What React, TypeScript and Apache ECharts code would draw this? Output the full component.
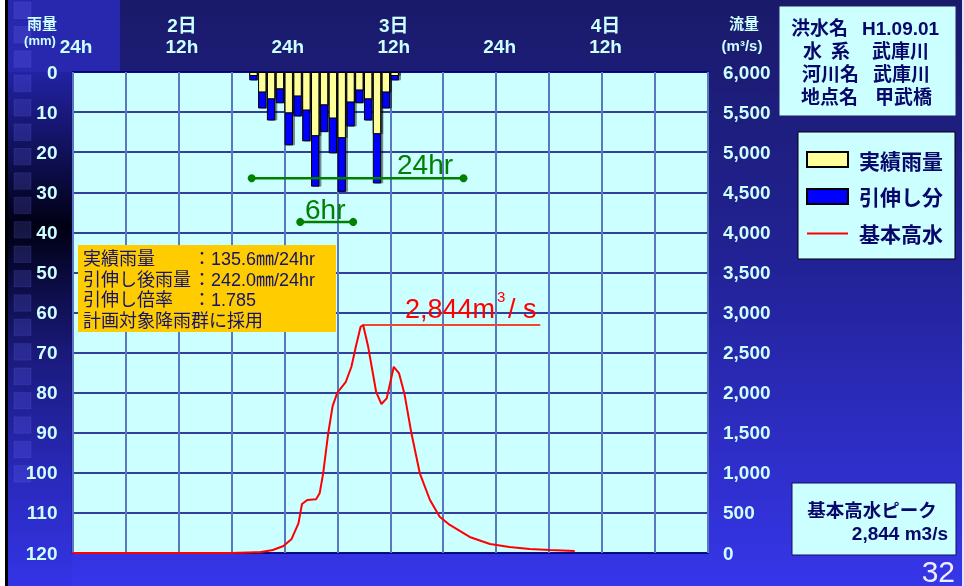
import React, { useEffect, useRef } from "react";
import * as echarts from "echarts";

// ---- data ----
const rainHours = [20, 21, 22, 23, 24, 25, 26, 27, 28, 29, 30, 31, 32, 33, 34, 35, 36];
const actualRain = [1.0, 5.1, 6.8, 4.3, 10.3, 6.1, 9.6, 16.0, 8.3, 11.6, 16.5, 7.6, 4.6, 6.8, 15.5, 5.1, 1.0];
const extraRain = [1.1, 4.0, 5.3, 3.5, 8.0, 5.0, 7.7, 12.6, 6.7, 8.7, 13.4, 6.0, 3.2, 5.3, 12.3, 4.0, 1.1];

const flowTimes = [0, 18, 21.2, 22.7, 23.9, 24.8, 25.6, 26.0, 26.6, 27.6, 28.0, 28.4, 28.97, 29.47, 30.0, 30.97, 31.6, 32.1, 32.64, 32.93, 33.5, 34.4, 35.0, 35.6, 36.4, 37.0, 37.6, 38.4, 39.35, 40.5, 41.6, 42.75, 45.0, 47.3, 49.5, 51.8, 54.1, 56.9];
const flowValues = [0, 0, 10, 37, 87, 171, 370, 611, 661, 670, 744, 994, 1493, 1833, 1999, 2136, 2323, 2572, 2822, 2844, 2572, 2011, 1858, 1929, 2323, 2240, 1991, 1493, 994, 661, 453, 350, 200, 112, 75, 50, 37, 25];

const peakTime = 32.93;
const peakFlow = 2844;
const peakLineEnd = 53;

const span24 = [20.3, 44.3];
const span24Level = 26.5;
const span6 = [25.8, 31.8];
const span6Level = 37.4;

const hourTickLabels: Record<number, string> = { 0: "24h", 12: "12h", 24: "24h", 36: "12h", 48: "24h", 60: "12h" };
const dayTickLabels: Record<number, string> = { 12: "2日", 36: "3日", 60: "4日" };

const seriesNames = ["実績雨量", "引伸し分", "基本高水"];

const noteLabels = ["実績雨量", "引伸し後雨量", "引伸し倍率", "計画対象降雨群に採用"];
const noteValues = ["135.6㎜/24hr", "242.0㎜/24hr", "1.785"];

const LAT = "'Liberation Sans', Arial, sans-serif";
const CJK = "'Noto Sans CJK JP', sans-serif";
const MIX = "'Liberation Sans', 'Noto Sans CJK JP', sans-serif";
const CYAN = "#CCFFFF";
const NAVY = "#08086a";

function txt(text: string, x: number, y: number, opt: any = {}) {
  return {
    type: "text",
    z: 100,
    silent: true,
    style: {
      text,
      x,
      y,
      fill: opt.fill || NAVY,
      fontSize: opt.size || 18,
      fontWeight: opt.weight || "normal",
      fontFamily: opt.family || MIX,
      align: opt.align || "left",
      verticalAlign: opt.valign || "middle",
      lineHeight: opt.lineHeight,
    },
  };
}

export default function App() {
  const ref = useRef<HTMLDivElement>(null);
  useEffect(() => {
    if (!ref.current) return;
    const chart = echarts.init(ref.current, null, { renderer: "svg" });

    const squares: any[] = [];
    for (let k = 0; k < 20; k++) {
      squares.push({
        type: "rect",
        z: -5,
        silent: true,
        shape: { x: 14, y: 2 + k * 24.4, width: 17, height: 16.5 },
        style: { fill: "rgba(110,110,255,0.2)", stroke: "rgba(140,140,255,0.12)", lineWidth: 1 },
      });
    }

    const graphics: any[] = [
      {
        type: "rect",
        z: -10,
        silent: true,
        shape: { x: 0, y: 0, width: 964, height: 586 },
        style: {
          fill: new echarts.graphic.LinearGradient(0, 0, 0, 1, [
            { offset: 0, color: "#1a1a6a" },
            { offset: 0.45, color: "#222296" },
            { offset: 1, color: "#3636ea" },
          ]),
        },
      },
      {
        type: "rect",
        z: -9,
        silent: true,
        shape: { x: 8, y: 0, width: 112, height: 72 },
        style: { fill: "#2828ae" },
      },
      {
        type: "rect",
        z: -9,
        silent: true,
        shape: { x: 8, y: 72, width: 64.5, height: 514 },
        style: {
          fill: new echarts.graphic.LinearGradient(0, 0, 0, 1, [
            { offset: 0, color: "#2222a4" },
            { offset: 0.3, color: "#000014" },
            { offset: 0.55, color: "#1a1a7c" },
            { offset: 0.8, color: "#2a2abe" },
            { offset: 1, color: "#3434e6" },
          ]),
        },
      },
      ...squares,
      { type: "rect", z: -4, silent: true, shape: { x: 0, y: 0, width: 5, height: 586 }, style: { fill: "#ffffff" } },
      { type: "rect", z: -4, silent: true, shape: { x: 5, y: 0, width: 3, height: 586 }, style: { fill: "#000000" } },
      { type: "rect", z: -4, silent: true, shape: { x: 962, y: 0, width: 2, height: 586 }, style: { fill: "#e0e0ff" } },

      // axis headers
      txt("雨量", 42, 23, { fill: CYAN, size: 15, weight: "bold", align: "center" }),
      txt("(mm)", 40, 40, { fill: CYAN, size: 13, weight: "bold", align: "center", family: LAT }),
      txt("流量", 744, 23, { fill: CYAN, size: 15, weight: "bold", align: "center" }),
      txt("(m³/s)", 742, 45, { fill: CYAN, size: 15, weight: "bold", align: "center", family: LAT }),

      // info box
      {
        type: "rect",
        z: 90,
        silent: true,
        shape: { x: 779, y: 6, width: 177, height: 110 },
        style: { fill: CYAN, stroke: "#20206a", lineWidth: 1 },
      },
      txt("洪水名", 791, 28, { size: 19, weight: "bold" }),
      txt("H1.09.01", 862, 28, { size: 19, weight: "bold", family: LAT }),
      txt("水", 803, 51, { size: 19, weight: "bold" }),
      txt("系", 831, 51, { size: 19, weight: "bold" }),
      txt("武庫川", 872, 51, { size: 19, weight: "bold" }),
      txt("河川名", 802, 74, { size: 19, weight: "bold" }),
      txt("武庫川", 873, 74, { size: 19, weight: "bold" }),
      txt("地点名", 801, 97, { size: 19, weight: "bold" }),
      txt("甲武橋", 875, 97, { size: 19, weight: "bold" }),

      // annotation box
      {
        type: "rect",
        z: 90,
        silent: true,
        shape: { x: 78, y: 245, width: 258, height: 87 },
        style: { fill: "#FFCC00" },
      },
      txt(noteLabels.join("\n"), 83, 249, { size: 18, fill: "#14146a", valign: "top", lineHeight: 20.5 }),
      txt(noteValues.map(() => "：").join("\n"), 202, 249, { size: 18, fill: "#14146a", align: "center", valign: "top", lineHeight: 20.5 }),
      txt(noteValues.join("\n"), 211, 249, { size: 18, fill: "#14146a", valign: "top", lineHeight: 20.5 }),

      // peak label
      txt("2,844m", 405, 309, { size: 27, fill: "#FF0000", family: LAT }),
      txt("3", 497, 296, { size: 15, fill: "#FF0000", family: LAT }),
      txt("/ s", 508, 309, { size: 27, fill: "#FF0000", family: LAT }),

      // green labels
      txt("24hr", 397, 164, { size: 28, fill: "#008000", family: LAT }),
      txt("6hr", 305, 209, { size: 28, fill: "#008000", family: LAT }),

      // peak box
      {
        type: "rect",
        z: 90,
        silent: true,
        shape: { x: 792, y: 483, width: 164, height: 72 },
        style: { fill: CYAN, stroke: "#10105a", lineWidth: 1 },
      },
      txt("基本高水ピーク", 872, 510, { size: 18.5, weight: "bold", align: "center" }),
      txt("2,844 m3/s", 948, 533, { size: 19, weight: "bold", align: "right", family: LAT }),

      txt("32", 955, 571, { size: 30, fill: "#eeeeff", align: "right", family: LAT }),
    ];

    const totalRain = actualRain.map((a, i) => a + extraRain[i]);
    const barShadow = { shadowColor: "rgba(0,0,0,0.45)", shadowOffsetX: 2, shadowBlur: 1 };

    const option: any = {
      animation: false,
      graphic: { elements: graphics },
      grid: {
        left: 72.5,
        right: 256,
        top: 72,
        bottom: 33,
        show: true,
        backgroundColor: CYAN,
        borderColor: "#000080",
        borderWidth: 1.5,
        z: 0,
      },
      legend: {
        data: [
          { name: seriesNames[0], icon: "rect" },
          { name: seriesNames[1], icon: "rect" },
          { name: seriesNames[2], icon: "path://M0,0H41V0.01H0ZM0,6.5H41V8.5H0ZM0,14.99H41V15H0Z" },
        ],
        orient: "vertical",
        left: 798,
        top: 132,
        padding: [17, 12, 15, 8],
        itemWidth: 41,
        itemHeight: 15,
        itemGap: 16,
        backgroundColor: CYAN,
        borderColor: "#000000",
        borderWidth: 1,
        selectedMode: false,
        textStyle: {
          color: NAVY,
          fontSize: 21,
          fontWeight: "bold",
          fontFamily: CJK,
          padding: [0, 0, 0, 6],
        },
      },
      xAxis: [
        {
          type: "value",
          min: 0,
          max: 72,
          interval: 6,
          position: "top",
          axisLine: { show: false },
          axisTick: { show: false },
          splitLine: { show: true, lineStyle: { color: "#5a78c0", width: 2 } },
          axisLabel: {
            color: CYAN,
            fontSize: 19,
            fontWeight: "bold",
            fontFamily: LAT,
            margin: 16,
            padding: [0, 0, 0, 7],
            showMaxLabel: false,
            formatter: (v: number) => hourTickLabels[v] || "",
          },
        },
        {
          type: "value",
          min: 0,
          max: 72,
          interval: 6,
          position: "top",
          offset: 23,
          axisLine: { show: false },
          axisTick: { show: false },
          splitLine: { show: false },
          axisLabel: {
            color: CYAN,
            fontSize: 19,
            fontWeight: "bold",
            fontFamily: MIX,
            margin: 14,
            padding: [0, 0, 0, 7],
            showMaxLabel: false,
            formatter: (v: number) => dayTickLabels[v] || "",
          },
        },
      ],
      yAxis: [
        {
          type: "value",
          inverse: true,
          min: 0,
          max: 120,
          interval: 10,
          position: "left",
          axisLine: { show: false },
          axisTick: { show: false },
          splitLine: { show: true, lineStyle: { color: "#00007a", width: 1.5 } },
          axisLabel: { color: CYAN, fontSize: 19, fontWeight: "bold", fontFamily: LAT, margin: 15 },
        },
        {
          type: "value",
          min: 0,
          max: 6000,
          interval: 500,
          position: "right",
          axisLine: { show: false },
          axisTick: { show: false },
          splitLine: { show: false },
          axisLabel: {
            color: CYAN,
            fontSize: 19,
            fontWeight: "bold",
            fontFamily: LAT,
            margin: 15,
            formatter: (v: number) => v.toLocaleString("en-US"),
          },
        },
      ],
      series: [
        {
          // extended rainfall (actual + extension), drawn behind
          name: seriesNames[1],
          type: "bar",
          xAxisIndex: 0,
          yAxisIndex: 0,
          barWidth: 8.4,
          barGap: "-100%",
          itemStyle: { color: "#0000FF", borderColor: "#000000", borderWidth: 1, ...barShadow },
          data: rainHours.map((h, i) => [h + 0.5, totalRain[i]]),
          z: 3,
        },
        {
          // actual rainfall, drawn on top from the 0 line
          name: seriesNames[0],
          type: "bar",
          xAxisIndex: 0,
          yAxisIndex: 0,
          barWidth: 8.4,
          barGap: "-100%",
          itemStyle: { color: "#FFFF99", borderColor: "#000000", borderWidth: 1, ...barShadow },
          data: rainHours.map((h, i) => [h + 0.5, actualRain[i]]),
          z: 4,
        },
        {
          name: seriesNames[2],
          type: "line",
          xAxisIndex: 0,
          yAxisIndex: 1,
          symbol: "none",
          showSymbol: false,
          lineStyle: { color: "#FF0000", width: 2 },
          itemStyle: { color: "#FF0000" },
          data: flowTimes.map((t, i) => [t, flowValues[i]]),
          z: 5,
          markLine: {
            silent: true,
            symbol: ["none", "none"],
            label: { show: false },
            lineStyle: { color: "#EE4A2A", width: 2, type: "solid" },
            data: [[{ coord: [peakTime, peakFlow] }, { coord: [peakLineEnd, peakFlow] }]],
          },
        },
        {
          name: "24hr",
          type: "line",
          xAxisIndex: 0,
          yAxisIndex: 0,
          symbol: "circle",
          symbolSize: 8,
          lineStyle: { color: "#008000", width: 2.5 },
          itemStyle: { color: "#008000" },
          data: span24.map((t) => [t, span24Level]),
          z: 6,
        },
        {
          name: "6hr",
          type: "line",
          xAxisIndex: 0,
          yAxisIndex: 0,
          symbol: "circle",
          symbolSize: 8,
          lineStyle: { color: "#008000", width: 2.5 },
          itemStyle: { color: "#008000" },
          data: span6.map((t) => [t, span6Level]),
          z: 6,
        },
      ],
    };

    chart.setOption(option);
    return () => chart.dispose();
  }, []);

  return <div ref={ref} style={{ position: "fixed", left: 0, top: 0, width: 964, height: 586 }} />;
}
